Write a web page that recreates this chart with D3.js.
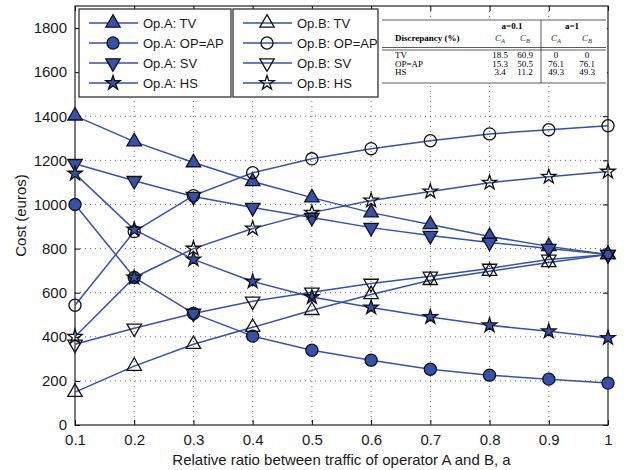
<!DOCTYPE html>
<html>
<head>
<meta charset="utf-8">
<script src="https://cdn.jsdelivr.net/npm/d3@7"></script>
<style>
  body { margin: 0; background: #fff; }
  text { font-family: "Liberation Sans", Arial, sans-serif; }
  .tbl text { font-family: "Liberation Serif", "Times New Roman", serif; font-size: 9px; }
</style>
</head>
<body>
<div id="chart"></div>
<script>
// data
var ratios = [0.1, 0.2, 0.3, 0.4, 0.5, 0.6, 0.7, 0.8, 0.9, 1];
var yTicks = [0, 200, 400, 600, 800, 1000, 1200, 1400, 1600, 1800];

var opA_TV = [1402, 1285, 1190, 1104, 1031, 963, 909, 855, 810, 773];
var opA_OPAP = [1000, 669, 506, 403, 339, 294, 253, 226, 208, 190];
var opA_SV = [1185, 1108, 1036, 986, 941, 895, 859, 828, 800, 773];
var opA_HS = [1140, 886, 751, 651, 580, 533, 490, 452, 425, 395];
var opB_TV = [149, 267, 366, 443, 520, 592, 656, 697, 737, 773];
var opB_OPAP = [543, 877, 1040, 1144, 1207, 1253, 1289, 1320, 1339, 1357];
var opB_SV = [366, 439, 506, 561, 602, 642, 674, 710, 751, 773];
var opB_HS = [400, 669, 800, 891, 963, 1018, 1059, 1099, 1126, 1149];

var tableRows = ["TV", "OP=AP", "HS"];
var tableA01 = [["18.5", "60.9"], ["15.3", "50.5"], ["3.4", "11.2"]];
var tableA1 = [["0", "0"], ["76.1", "76.1"], ["49.3", "49.3"]];

var series = [
  {name: "Op.A: TV", vals: opA_TV, mark: "up", filled: true},
  {name: "Op.A: OP=AP", vals: opA_OPAP, mark: "circle", filled: true},
  {name: "Op.A: SV", vals: opA_SV, mark: "down", filled: true},
  {name: "Op.A: HS", vals: opA_HS, mark: "star", filled: true},
  {name: "Op.B: TV", vals: opB_TV, mark: "up", filled: false},
  {name: "Op.B: OP=AP", vals: opB_OPAP, mark: "circle", filled: false},
  {name: "Op.B: SV", vals: opB_SV, mark: "down", filled: false},
  {name: "Op.B: HS", vals: opB_HS, mark: "star", filled: false}
];

var blue = "#3352b0";
var svgWidth = 624, svgHeight = 470;
var margin = {top: 6, right: 16, bottom: 45, left: 75};
var width = svgWidth - margin.left - margin.right;
var height = svgHeight - margin.top - margin.bottom;

var svg = d3.select("#chart").append("svg")
  .attr("width", svgWidth)
  .attr("height", svgHeight);

var chartGroup = svg.append("g")
  .attr("transform", `translate(${margin.left}, ${margin.top})`);

var x = d3.scaleLinear().domain([0.1, 1]).range([0, width]);
var y = d3.scaleLinear().domain([0, 1900]).range([height, 0]);

// grid
chartGroup.selectAll(".vgrid").data(ratios.slice(1, -1)).enter().append("line")
  .attr("x1", d => x(d)).attr("x2", d => x(d))
  .attr("y1", 0).attr("y2", height)
  .attr("stroke", "#444").attr("stroke-width", 0.8).attr("stroke-dasharray", "1,4");
chartGroup.selectAll(".hgrid").data(yTicks.slice(1)).enter().append("line")
  .attr("x1", 0).attr("x2", width)
  .attr("y1", d => y(d)).attr("y2", d => y(d))
  .attr("stroke", "#444").attr("stroke-width", 0.8).attr("stroke-dasharray", "1,4");

// axes (matlab style: ticks inside, on all sides)
var xAxis = d3.axisBottom(x).tickValues(ratios).tickSizeInner(-5).tickSizeOuter(0).tickPadding(9)
  .tickFormat(d => d === 1 ? "1" : d3.format(".1f")(d));
var yAxis = d3.axisLeft(y).tickValues(yTicks).tickSizeInner(-5).tickSizeOuter(0).tickPadding(8)
  .tickFormat(d3.format("d"));

var gx = chartGroup.append("g").attr("transform", `translate(0, ${height})`).call(xAxis);
var gy = chartGroup.append("g").call(yAxis);
chartGroup.append("g").call(d3.axisTop(x).tickValues(ratios).tickSizeInner(-5).tickSizeOuter(0).tickFormat(""));
chartGroup.append("g").attr("transform", `translate(${width}, 0)`)
  .call(d3.axisRight(y).tickValues(yTicks).tickSizeInner(-5).tickSizeOuter(0).tickFormat(""));
[gx, gy].forEach(g => g.selectAll("text").attr("font-size", "15px").attr("fill", "#1a1a1a")
  .attr("font-family", "Liberation Sans, Arial, sans-serif"));
chartGroup.selectAll(".domain").remove();

chartGroup.append("rect")
  .attr("width", width).attr("height", height)
  .attr("fill", "none").attr("stroke", "#222").attr("stroke-width", 1.2);

// lines
var line = d3.line().x((d, i) => x(ratios[i])).y(d => y(d));
series.forEach(function(s) {
  chartGroup.append("path")
    .datum(s.vals)
    .attr("d", line)
    .attr("fill", "none")
    .attr("stroke", blue)
    .attr("stroke-width", 1.5);
});

function symbolPath(mark) {
  if (mark === "up" || mark === "down") return d3.symbol(d3.symbolTriangle, 90)();
  if (mark === "circle") return d3.symbol(d3.symbolCircle, 115)();
  return d3.symbol(d3.symbolStar, 65)();
}
function drawMarker(g, mark, filled, cx, cy) {
  g.append("path")
    .attr("d", symbolPath(mark))
    .attr("transform", `translate(${cx}, ${cy})` + (mark === "down" ? " rotate(180)" : ""))
    .attr("fill", filled ? blue : "none")
    .attr("stroke", "#111")
    .attr("stroke-width", 1.3);
}

series.forEach(function(s) {
  s.vals.forEach(function(v, i) {
    drawMarker(chartGroup, s.mark, s.filled, x(ratios[i]), y(v));
  });
});

// legends
var legendBoxes = [
  {x: 79, items: series.slice(0, 4)},
  {x: 233, items: series.slice(4)}
];
var legendW = [152, 145];
legendBoxes.forEach(function(b, bi) {
  var lg = svg.append("g").attr("transform", `translate(${b.x}, 9)`);
  lg.append("rect").attr("width", legendW[bi]).attr("height", 88)
    .attr("fill", "#fff").attr("stroke", "#222").attr("stroke-width", 1.2);
  b.items.forEach(function(s, i) {
    var ly = 14 + i * 20;
    lg.append("line").attr("x1", 10).attr("x2", 59).attr("y1", ly).attr("y2", ly)
      .attr("stroke", blue).attr("stroke-width", 1.5);
    drawMarker(lg, s.mark, s.filled, 34, ly);
    lg.append("text").attr("x", 64).attr("y", ly).attr("dy", "0.35em")
      .attr("font-size", "13px").attr("fill", "#1a1a1a").text(s.name);
  });
});

// discrepancy table
var tbl = svg.append("g").attr("class", "tbl");
tbl.append("rect").attr("x", 380).attr("y", 19).attr("width", 227).attr("height", 66).attr("fill", "#fff");
[20, 47.5, 50, 83].forEach(function(ly) {
  tbl.append("line").attr("x1", 382).attr("x2", 606).attr("y1", ly).attr("y2", ly)
    .attr("stroke", "#333").attr("stroke-width", 0.8);
});
tbl.append("line").attr("x1", 541).attr("x2", 541).attr("y1", 20).attr("y2", 83)
  .attr("stroke", "#333").attr("stroke-width", 0.8);
tbl.append("text").attr("x", 512).attr("y", 29).attr("text-anchor", "middle")
  .attr("font-weight", "bold").text("a=0.1");
tbl.append("text").attr("x", 572).attr("y", 29).attr("text-anchor", "middle")
  .attr("font-weight", "bold").text("a=1");
tbl.append("text").attr("x", 395).attr("y", 41).attr("font-weight", "bold").text("Discrepancy (%)");
var colX = [500, 525, 556, 587];
colX.forEach(function(cx, ci) {
  var t = tbl.append("text").attr("x", cx).attr("y", 41).attr("text-anchor", "middle")
    .attr("font-style", "italic").attr("font-size", "10px").attr("fill", "#333");
  t.append("tspan").text("C");
  t.append("tspan").attr("dy", 2).attr("font-size", "6.5px").text(ci % 2 === 0 ? "A" : "B");
});
tableRows.forEach(function(r, ri) {
  var ry = 58 + ri * 8.6;
  tbl.append("text").attr("x", 395).attr("y", ry).text(r);
  var vals = tableA01[ri].concat(tableA1[ri]);
  vals.forEach(function(v, ci) {
    tbl.append("text").attr("x", colX[ci]).attr("y", ry).attr("text-anchor", "middle").text(v);
  });
});

// axis labels
svg.append("text")
  .attr("transform", "rotate(-90)")
  .attr("x", -(margin.top + height / 2))
  .attr("y", 26)
  .attr("text-anchor", "middle")
  .attr("font-size", "15px").attr("fill", "#1a1a1a")
  .text("Cost (euros)");

svg.append("text")
  .attr("x", margin.left + width / 2)
  .attr("y", 465)
  .attr("text-anchor", "middle")
  .attr("font-size", "15px").attr("fill", "#1a1a1a")
  .text("Relative ratio between traffic of operator A and B, a");
</script>
</body>
</html>
